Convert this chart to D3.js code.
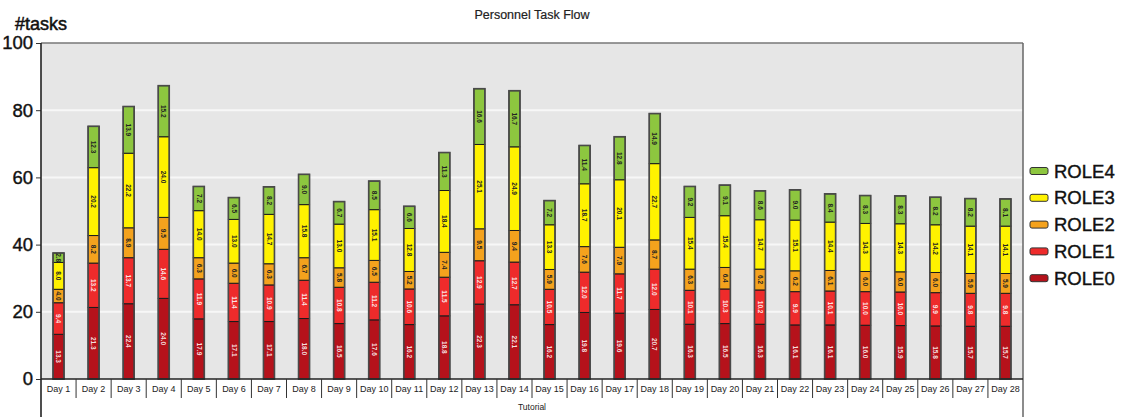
<!DOCTYPE html>
<html>
<head>
<meta charset="utf-8">
<script src="https://cdn.jsdelivr.net/npm/d3@7"></script>
<style>
  html, body { margin: 0; padding: 0; background: #fff; }
  svg { display: block; font-family: "Liberation Sans", Arial, sans-serif; }
</style>
</head>
<body>
<svg id="chart" width="1128" height="417"></svg>
<script>
// Daily task counts per role
const days = d3.range(1, 29).map(d => "Day " + d);
const roles = ["ROLE0", "ROLE1", "ROLE2", "ROLE3", "ROLE4"];
const role0 = [13.3, 21.3, 22.4, 24.0, 17.9, 17.1, 17.1, 18.0, 16.5, 17.6, 16.2, 18.8, 22.3, 22.1,
               16.2, 19.8, 19.6, 20.7, 16.3, 16.5, 16.3, 16.1, 16.1, 16.0, 15.9, 15.8, 15.7, 15.7];
const role1 = [9.4, 13.2, 13.7, 14.6, 11.9, 11.4, 10.9, 11.4, 10.8, 11.2, 10.6, 11.5, 12.9, 12.7,
               10.5, 12.0, 11.7, 12.0, 10.1, 10.3, 10.2, 9.9, 10.1, 10.0, 10.0, 9.9, 9.8, 9.8];
const role2 = [4.0, 8.2, 8.9, 9.5, 6.3, 6.0, 6.3, 6.7, 5.8, 6.5, 5.2, 7.4, 9.5, 9.4,
               5.9, 7.6, 7.9, 8.7, 6.3, 6.4, 6.2, 6.2, 6.1, 6.0, 6.0, 6.0, 5.9, 5.9];
const role3 = [8.0, 20.2, 22.2, 24.0, 14.0, 13.0, 14.7, 15.8, 13.0, 15.1, 12.8, 18.4, 25.1, 24.9,
               13.3, 18.7, 20.1, 22.7, 15.4, 15.4, 14.7, 15.1, 14.4, 14.3, 14.3, 14.2, 14.1, 14.1];
const role4 = [2.8, 12.3, 13.9, 15.2, 7.2, 6.5, 8.2, 9.0, 6.7, 8.5, 6.6, 11.3, 16.6, 16.7,
               7.2, 11.4, 12.8, 14.9, 9.2, 9.1, 8.6, 9.0, 8.4, 8.3, 8.3, 8.2, 8.2, 8.1];
const yTicks = [0, 20, 40, 60, 80, 100];

const colors = { ROLE0: "#b5121b", ROLE1: "#ee2b2b", ROLE2: "#f4a21d", ROLE3: "#fff200", ROLE4: "#8dc63f" };
const labelColors = { ROLE0: "#f4dede", ROLE1: "#fbe3e3", ROLE2: "#222", ROLE3: "#222", ROLE4: "#222" };

const table = days.map((day, i) => ({
  day, ROLE0: role0[i], ROLE1: role1[i], ROLE2: role2[i], ROLE3: role3[i], ROLE4: role4[i]
}));
const series = d3.stack().keys(roles)(table);

const svg = d3.select("#chart");
const plotL = 41, plotR = 1023, plotT = 43, plotB = 379;

const x = d3.scaleBand().domain(days).range([plotL, plotR]).padding(0);
const y = d3.scaleLinear().domain([0, 100]).range([plotB, plotT]);
const barW = 11;

// plot background and grid
svg.append("rect").attr("x", plotL).attr("y", plotT).attr("width", plotR - plotL).attr("height", plotB - plotT)
  .attr("fill", "#e6e6e6");
svg.append("g").selectAll("line").data(yTicks.filter(t => t > 0 && t < 100)).join("line")
  .attr("x1", plotL).attr("x2", plotR).attr("y1", d => y(d)).attr("y2", d => y(d))
  .attr("stroke", "#f7f7f7").attr("stroke-width", 2);
svg.append("line").attr("x1", plotL).attr("x2", plotR).attr("y1", plotT).attr("y2", plotT)
  .attr("stroke", "#777").attr("stroke-width", 1.5);

// stacked bars
const layer = svg.append("g").selectAll("g").data(series).join("g").attr("fill", d => colors[d.key]);
layer.selectAll("rect").data(d => d).join("rect")
  .attr("x", d => x(d.data.day) + x.bandwidth() / 2 - barW / 2)
  .attr("y", d => y(d[1]))
  .attr("width", barW)
  .attr("height", d => y(d[0]) - y(d[1]))
  .attr("stroke", "#1a1a1a").attr("stroke-width", 1);

// outer bar outline
svg.append("g").selectAll("rect").data(table).join("rect")
  .attr("x", d => x(d.day) + x.bandwidth() / 2 - barW / 2)
  .attr("y", d => y(d3.sum(roles, r => d[r])))
  .attr("width", barW)
  .attr("height", d => plotB - y(d3.sum(roles, r => d[r])))
  .attr("fill", "none").attr("stroke", "#4a4a4a").attr("stroke-width", 1.6);

// value labels inside segments
const lab = svg.append("g").attr("font-size", 6.5).attr("font-weight", "bold");
series.forEach(s => {
  lab.append("g").selectAll("text").data(s).join("text")
    .attr("transform", d => {
      const cx = x(d.data.day) + x.bandwidth() / 2;
      const cy = (y(d[0]) + y(d[1])) / 2;
      return `translate(${cx},${cy}) rotate(90)`;
    })
    .attr("text-anchor", "middle").attr("dy", "0.35em")
    .attr("fill", labelColors[s.key])
    .text(d => (d[1] - d[0]).toFixed(1));
});

// y axis
const yAxis = svg.append("g").attr("transform", `translate(${plotL},0)`)
  .call(d3.axisLeft(y).tickValues(yTicks).tickSize(5).tickPadding(3).tickFormat(d3.format("d")));
yAxis.select(".domain").remove();
yAxis.selectAll("line").attr("stroke", "#333");
yAxis.selectAll("text").attr("font-size", 18.5).attr("fill", "#111")
  .attr("stroke", "#111").attr("stroke-width", 0.4)
  .attr("font-family", "'Liberation Sans', Arial, sans-serif");
svg.append("line").attr("x1", plotL).attr("x2", plotL).attr("y1", plotT).attr("y2", 417)
  .attr("stroke", "#222").attr("stroke-width", 1.6);
svg.append("line").attr("x1", plotR).attr("x2", plotR).attr("y1", plotT).attr("y2", 417)
  .attr("stroke", "#666").attr("stroke-width", 1.5);

// x axis: category cells
svg.append("line").attr("x1", plotL).attr("x2", plotR).attr("y1", plotB).attr("y2", plotB)
  .attr("stroke", "#222").attr("stroke-width", 1.5);
svg.append("g").selectAll("line").data(days.slice(1)).join("line")
  .attr("x1", d => x(d)).attr("x2", d => x(d)).attr("y1", plotB).attr("y2", 398)
  .attr("stroke", "#333").attr("stroke-width", 1);
svg.append("g").selectAll("text").data(days).join("text")
  .attr("x", d => x(d) + x.bandwidth() / 2).attr("y", 392)
  .attr("text-anchor", "middle").attr("font-size", 9).attr("fill", "#222")
  .text(d => d);
svg.append("text").attr("x", 532).attr("y", 410).attr("text-anchor", "middle")
  .attr("font-size", 8.5).attr("fill", "#222").text("Tutorial");

// titles
svg.append("text").attr("x", 532).attr("y", 19).attr("text-anchor", "middle")
  .attr("font-size", 12.5).attr("fill", "#222").attr("stroke", "#222").attr("stroke-width", 0.2)
  .text("Personnel Task Flow");
svg.append("text").attr("x", 15).attr("y", 30)
  .attr("font-size", 18).attr("fill", "#111").attr("stroke", "#111").attr("stroke-width", 0.5)
  .text("#tasks");

// legend
const legend = svg.append("g").selectAll("g").data(roles.slice().reverse()).join("g")
  .attr("transform", (d, i) => `translate(1030,${171 + i * 26.8})`);
legend.append("rect").attr("x", 0).attr("y", -3.5).attr("width", 18).attr("height", 7).attr("rx", 2)
  .attr("fill", d => colors[d]).attr("stroke", "#333").attr("stroke-width", 1);
legend.append("text").attr("x", 24).attr("dy", "0.36em").attr("font-size", 18.5).attr("fill", "#111")
  .attr("stroke", "#111").attr("stroke-width", 0.4)
  .text(d => d);
</script>
</body>
</html>
